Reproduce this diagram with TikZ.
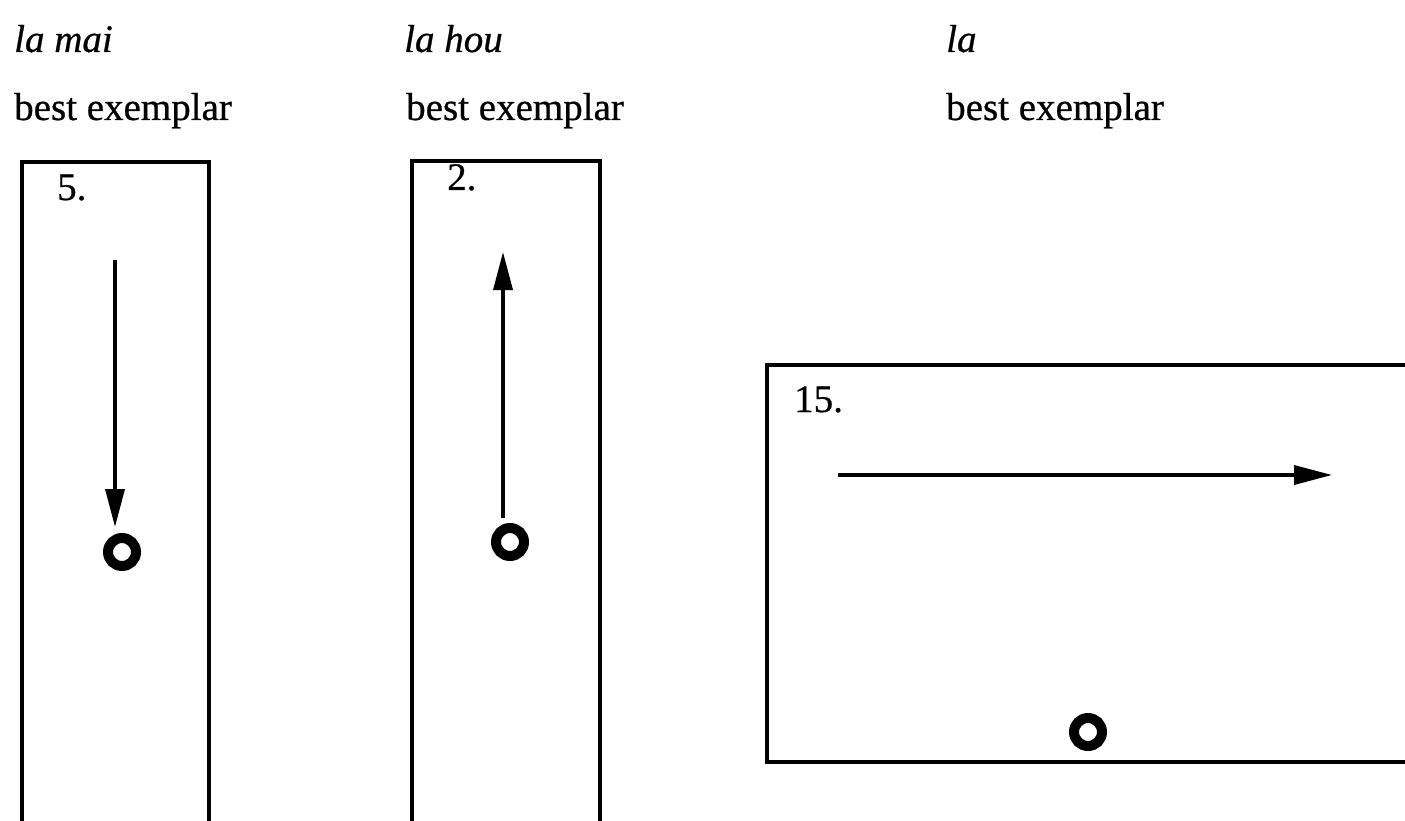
\documentclass[tikz,border=0pt]{standalone}
\usepackage{fontspec}
\setmainfont{Liberation Serif}[FakeBold=0.6]
\usetikzlibrary{arrows.meta}
\begin{document}
\begin{tikzpicture}[x=1pt,y=-1pt,
  lbl/.style={anchor=base west, inner sep=0pt, font=\fontsize{39}{46}\selectfont},
  ilbl/.style={lbl, font=\fontsize{39}{46}\selectfont\itshape},
  frame/.style={draw, line width=4pt, anchor=north west, inner sep=0pt},
  ring/.style={circle, draw, line width=10pt, minimum size=28pt, inner sep=0pt},
  arr/.style={line width=3.5pt, -{Triangle[length=38pt,width=19pt]}}]
\useasboundingbox (0,0) rectangle (1405,821);
\clip (0,0) rectangle (1405,821);
\fill[white] (0,0) rectangle (1405,821);

% headings
\node[ilbl] (h1) at (14,52) {la mai};
\node[lbl] (s1) at (14,120) {best exemplar};
\node[ilbl] (h2) at (404,52) {la hou};
\node[lbl] (s2) at (406,120) {best exemplar};
\node[ilbl] (h3) at (946,52) {la};
\node[lbl] (s3) at (946,120) {best exemplar};

% boxes
\node[frame, minimum width=187pt, minimum height=700pt] (b1) at (20,160) {};
\node[frame, minimum width=188pt, minimum height=700pt] (b2) at (410,159) {};
\node[frame, minimum width=680pt, minimum height=397pt] (b3) at (765,363) {};

% numbers
\node[lbl] (n1) at (57,200) {5.};
\node[lbl] (n2) at (447,190) {2.};
\node[lbl] (n3) at (794,412) {15.};

% circles
\node[ring] (c1) at (122,552) {};
\node[ring] (c2) at (510,542) {};
\node[ring] (c3) at (1088,732) {};

% arrows
\coordinate (a1) at (115,260);
\draw[arr, shorten >=6pt] (a1) -- (a1 |- c1.north);
\coordinate (a2) at (503,252);
\draw[arr, shorten <=5pt] (a2 |- c2.north) -- (a2);
\coordinate (a3s) at (838,475);
\coordinate (a3e) at (1332,475);
\draw[arr] (a3s) -- (a3e);
\end{tikzpicture}
\end{document}
